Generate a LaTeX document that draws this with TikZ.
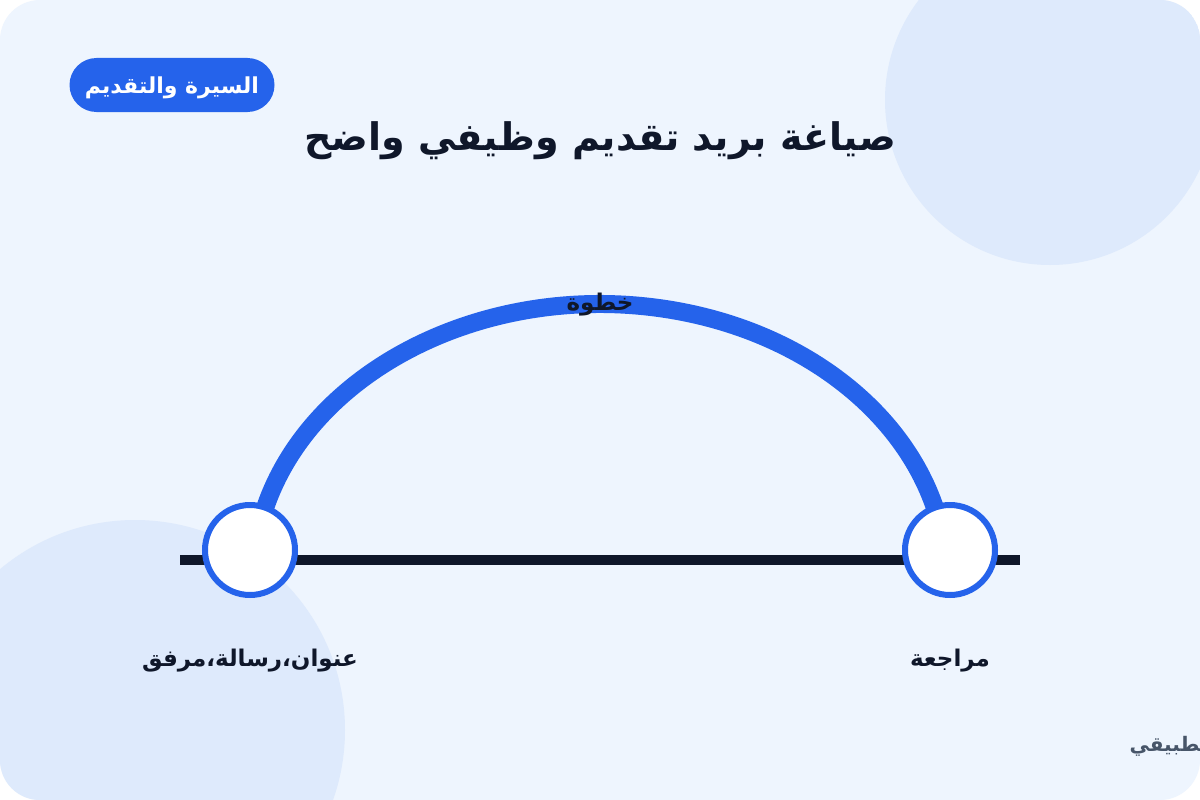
\documentclass[tikz,border=0pt]{standalone}
\usepackage{fontspec}
\usepackage{tikz}
\usetikzlibrary{calc}
\newfontfamily\arabicfont[Script=Arabic]{DejaVu Sans}
\TeXXeTstate=1
\definecolor{cardbg}{HTML}{EEF5FE}
\definecolor{blob}{HTML}{DEEAFC}
\definecolor{accent}{HTML}{2563EB}
\definecolor{ink}{HTML}{0F172A}
\definecolor{muted}{HTML}{475569}
\pgfdeclarelayer{card}
\pgfdeclarelayer{track}
\pgfsetlayers{card,track,main}

\begin{document}
\begin{tikzpicture}[x=1pt,y=-1pt]
    \tikzset{stop/.style = {shape=circle,draw=accent,fill=white,line width=6pt,minimum size=90pt,inner sep=0pt}}
    \tikzset{arlabel/.style = {text=ink,font=\arabicfont\bfseries\fontsize{23}{28}\selectfont}}
    \tikzset{arc/.style = {draw=accent,line width=18pt}}
    \useasboundingbox (0,0) rectangle (1200,800);
    % card
    \begin{pgfonlayer}{card}
    \fill[white] (0,0) rectangle (1200,800);
    \begin{scope}
    \clip[rounded corners=40pt] (0,0) rectangle (1200,800);
    \fill[cardbg] (0,0) rectangle (1200,800);
    \fill[blob] (1050,100) circle (165);
    \fill[blob] (135,730) circle (210);
    \end{scope}
    \end{pgfonlayer}
    % header
    \node[fill=accent,rounded corners=27pt,minimum width=205pt,minimum height=54pt,text=white,text depth=0pt,
          font=\arabicfont\bfseries\fontsize{22}{26}\selectfont] (tag) at (172,85) {\beginR السيرة والتقديم\endR};
    \node[text=ink,font=\arabicfont\bfseries\fontsize{38}{46}\selectfont] (title) at (600,141) {\beginR صياغة بريد تقديم وظيفي واضح\endR};
    % stops
    \node[stop] (a) at (250,550) {};
    \node[stop] (b) at (950,550) {};
    % track
    \begin{pgfonlayer}{track}
    \draw[ink,line width=10pt] ($(a)+(-70,10)$) -- ($(b)+(70,10)$);
    \draw[arc] ($(a)+(10,-25)$) arc[start angle=191.5,end angle=348.5,x radius=347,y radius=276];
    \end{pgfonlayer}
    % labels
    \node[arlabel] (step) at (600,305) {\beginR خطوة\endR};
    \node[arlabel] (alabel) at (250,661) {\beginR عنوان،رسالة،مرفق\endR};
    \node[arlabel] (blabel) at (950,661) {\beginR مراجعة\endR};
    \node[anchor=west,text=muted,font=\arabicfont\bfseries\fontsize{20}{24}\selectfont] (note) at (1126,746) {\beginR تطبيقي\endR};
\end{tikzpicture}
\end{document}
